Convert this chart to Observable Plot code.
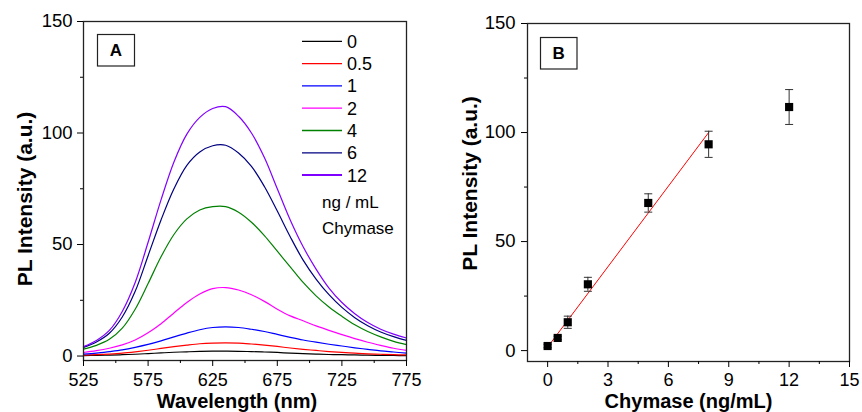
<!DOCTYPE html>
<html><head><meta charset="utf-8">
<script src="https://cdn.jsdelivr.net/npm/d3@7"></script>
<script src="https://cdn.jsdelivr.net/npm/@observablehq/plot@0.6"></script>
<style>
body{margin:0;background:#fff;}
#wrap{position:relative;width:862px;height:412px;overflow:hidden;background:#fff;}
#wrap > div{position:absolute;top:0;}
#pa{left:0;} #pb{left:431px;}
</style></head><body><div id="wrap"><div id="pa"></div><div id="pb"></div></div>
<script>
const FONT = '"Liberation Sans", Arial, Helvetica, sans-serif';

// ---- Panel A data: PL spectra ----
const wavelengths = [525,535,545,555,565,575,585,595,605,615,625,635,645,655,665,675,685,695,705,715,725,735,745,755,765,775];
const concentrations = ["0","0.5","1","2","4","6","12"];
const seriesColors = ["#000000","#ff0000","#0000ff","#ff00ff","#008000","#000080","#8000ff"];
const pl_0   = [0.2,0.3,0.4,0.6,0.8,1.1,1.4,1.7,1.9,2.1,2.2,2.2,2.1,2.0,1.8,1.6,1.3,1.1,0.9,0.7,0.6,0.5,0.4,0.3,0.25,0.2];
const pl_0_5 = [0.4,0.6,0.9,1.3,1.9,2.6,3.4,4.2,4.9,5.5,5.8,5.9,5.8,5.4,4.9,4.3,3.6,3.0,2.5,2.0,1.6,1.3,1.0,0.8,0.6,0.5];
const pl_1   = [0.9,1.3,2.0,2.8,3.9,5.2,6.8,8.6,10.3,11.8,12.8,13.1,12.8,12,11,9.7,8.4,7.2,6.2,5.3,4.5,3.7,3.0,2.3,1.8,1.3];
const pl_2   = [1.6,2.4,3.5,5.0,7.2,10.4,14.5,19.3,24,27.8,30.2,30.7,29.6,27.5,24.5,21,18,15.8,13.5,11.5,9.6,7.8,6.2,4.8,3.5,2.5];
const pl_4   = [3.1,4.8,7.5,12.5,21,32.5,44.5,54.5,61.5,65.5,67,67,64.5,60,54,47,40,33,27,22,17.8,14,11,8.6,6.6,5.1];
const pl_6   = [3.9,6.3,10.2,17.5,29,45,61,75,85.5,91.5,94.3,94.5,91,85,76,65,53.5,43,34.5,27.5,21.8,17.2,13.6,10.8,8.7,7.0];
const pl_12  = [4.2,7.0,11.5,20,33,51,70,87,99.5,107,111,111.8,107.5,100,89,75,61,49,39,30.5,24,19,15,12,9.8,8.1];
const plSeries = [pl_0, pl_0_5, pl_1, pl_2, pl_4, pl_6, pl_12];

// ---- Panel B data: calibration ----
const chymase   = [0, 0.5, 1, 2, 5, 8, 12];
const intensity = [2.1, 5.8, 13, 30.4, 67.7, 94.6, 111.7];
const errorBar  = [0.8, 0.8, 2.8, 3.2, 4.2, 6, 8];
const fitX = [0, 8];
const fitY = [1.6, 100];

// ---- ticks & labels ----
const xTicksA = [525,575,625,675,725,775];
const xMinorA = [550,600,650,700,750];
const yTicks = [0,50,100,150];
const yMinor = [25,75,125];
const xTicksB = [0,3,6,9,12,15];
const xMinorB = [1.5,4.5,7.5,10.5,13.5];
const xTitleA = "Wavelength (nm)";
const xTitleB = "Chymase (ng/mL)";
const yTitle = "PL Intensity (a.u.)";
const legendUnit = ["ng / mL", "Chymase"];

const spectra = [];
concentrations.forEach((c, i) => wavelengths.forEach((w, j) => spectra.push({c, w, v: plSeries[i][j]})));
const calib = chymase.map((x, i) => ({x, y: intensity[i], lo: intensity[i] - errorBar[i], hi: intensity[i] + errorBar[i]}));
const fit = fitX.map((x, i) => ({x, y: fitY[i]}));

const capSymbol = {draw(ctx) { ctx.moveTo(-4, 0); ctx.lineTo(4, 0); }};

const common = {style: {fontFamily: FONT, fontSize: "18px", color: "#000", background: "transparent", overflow: "visible"}};

const plotA = Plot.plot({
  ...common,
  width: 431, height: 412, marginLeft: 83, marginRight: 25, marginTop: 21, marginBottom: 52,
  x: {domain: [525, 775]},
  y: {domain: [-2, 150]},
  color: {domain: concentrations, range: seriesColors},
  marks: [
    Plot.line(spectra, {x: "w", y: "v", z: "c", stroke: "c", strokeWidth: 1.2, curve: "catmull-rom"}),
    Plot.frame({stroke: "#222", strokeWidth: 1.3}),
    Plot.axisX({ticks: xTicksA, tickSize: 6, tickPadding: 7, fontSize: 18, label: null}),
    Plot.axisX({ticks: xMinorA, tickSize: 3, text: null, label: null}),
    Plot.axisY({ticks: yTicks, tickSize: 6, tickPadding: 5, fontSize: 18.5, label: null}),
    Plot.axisY({ticks: yMinor, tickSize: 3, text: null, label: null}),
    Plot.text([xTitleA], {text: d => d, frameAnchor: "bottom", lineAnchor: "middle", textAnchor: "middle", dy: 41.5, dx: -8, fontWeight: "bold", fontSize: 20}),
    Plot.text([yTitle], {text: d => d, frameAnchor: "left", lineAnchor: "middle", textAnchor: "middle", dx: -58, dy: 8, rotate: -90, fontWeight: "bold", fontSize: 21})
  ]
});

const plotB = Plot.plot({
  ...common,
  width: 431, height: 412, marginLeft: 96, marginRight: 13, marginTop: 23, marginBottom: 51,
  x: {domain: [-1, 15]},
  y: {domain: [-5, 150]},
  marks: [
    Plot.line(fit, {x: "x", y: "y", stroke: "#ff0000", strokeWidth: 1}),
    Plot.ruleX(calib, {x: "x", y1: "lo", y2: "hi", stroke: "#333", strokeWidth: 1}),
    Plot.dot(calib, {x: "x", y: "lo", symbol: capSymbol, stroke: "#333", strokeWidth: 1, r: 4}),
    Plot.dot(calib, {x: "x", y: "hi", symbol: capSymbol, stroke: "#333", strokeWidth: 1, r: 4}),
    Plot.dot(calib, {x: "x", y: "y", symbol: "square", fill: "#000", r: 4.6}),
    Plot.frame({stroke: "#222", strokeWidth: 1.3}),
    Plot.axisX({ticks: xTicksB, tickSize: 6, tickPadding: 6, fontSize: 18, label: null}),
    Plot.axisX({ticks: xMinorB, tickSize: 3, text: null, label: null}),
    Plot.axisY({ticks: yTicks, tickSize: 6, tickPadding: 6, fontSize: 18.5, label: null}),
    Plot.axisY({ticks: yMinor, tickSize: 3, text: null, label: null}),
    Plot.text([xTitleB], {text: d => d, frameAnchor: "bottom", lineAnchor: "middle", textAnchor: "middle", dy: 40.5, fontWeight: "bold", fontSize: 20}),
    Plot.text([yTitle], {text: d => d, frameAnchor: "left", lineAnchor: "middle", textAnchor: "middle", dx: -57, dy: -9, rotate: -90, fontWeight: "bold", fontSize: 21})
  ]
});

document.getElementById("pa").appendChild(plotA);
document.getElementById("pb").appendChild(plotB);

// ---- panel letters & legend (annotation layer) ----
function panelLetter(svg, letter, x, y, w, h) {
  const g = d3.select(svg).append("g");
  g.append("rect").attr("x", x).attr("y", y).attr("width", w).attr("height", h)
    .attr("fill", "#fff").attr("stroke", "#222").attr("stroke-width", 1.2);
  g.append("text").attr("x", x + w / 2).attr("y", y + h / 2).attr("dy", "0.35em")
    .attr("text-anchor", "middle").attr("font-family", FONT).attr("font-weight", "bold")
    .attr("font-size", 17).attr("fill", "#000").text(letter);
}
panelLetter(plotA, "A", 97.5, 34.5, 37, 31.5);
panelLetter(plotB, "B", 540.5 - 431, 37.5, 36.5, 31.5);

const lg = d3.select(plotA).append("g").attr("font-family", FONT).attr("font-size", 18)
  .attr("fill", "#000").attr("text-anchor", "start");
concentrations.forEach((c, i) => {
  const y = 41.3 + i * 22.3;
  lg.append("line").attr("x1", 302).attr("x2", 342).attr("y1", y).attr("y2", y)
    .attr("stroke", seriesColors[i]).attr("stroke-width", i === 6 ? 2 : 1.3);
  lg.append("text").attr("x", 347).attr("y", y).attr("dy", "0.36em")
    .attr("text-anchor", "start").attr("font-size", 18).text(c);
});
legendUnit.forEach((t, i) => {
  lg.append("text").attr("x", 322).attr("y", 201.7 + i * 26.6).attr("dy", "0.36em")
    .attr("text-anchor", "start").attr("font-size", 17).text(t);
});
</script>
</body></html>
